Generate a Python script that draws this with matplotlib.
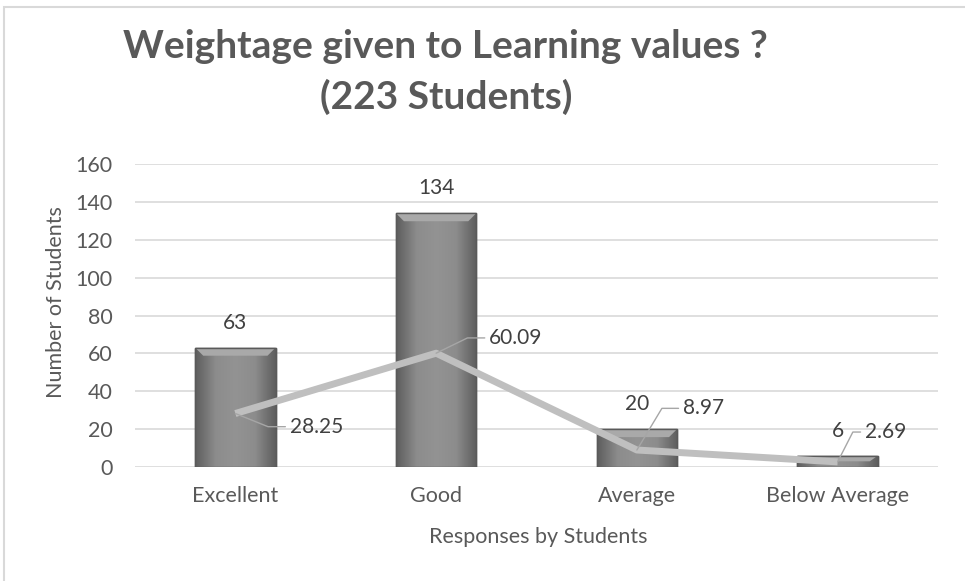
import numpy as np
import matplotlib
matplotlib.use("Agg")
import matplotlib.pyplot as plt
from matplotlib.colors import LinearSegmentedColormap
from matplotlib.patches import Rectangle, Polygon

categories = ["Excellent", "Good", "Average", "Below Average"]
students = [63, 134, 20, 6]
percent = [28.25, 60.09, 8.97, 2.69]
yticks = [0, 20, 40, 60, 80, 100, 120, 140, 160]

#label offsets (points) and leader angles for the percentage line
pct_offsets = [(39, -9.5), (38, 11), (33, 30), (19.5, 21.5)]
pct_angles = [-22, 26, 59, 63]

plt.rcParams['font.family'] = ['Lato', 'DejaVu Sans']
text_col = "#595959"

fig = plt.figure(figsize=(9.65, 5.81), dpi=100)
ax = fig.add_axes([135/965, 1-467/581, (938-135)/965, (467-164)/581])

x = np.arange(len(categories))
bars = ax.bar(x, students, width=0.4, color="#8a8a8a", edgecolor="#5a5a5a",
              linewidth=1, zorder=2)

ax.set_xlim(-0.5, 3.5)
ax.set_ylim(0, 160)

#horizontal gradient inside each bar, plus a lighter bevel on top
cmap = LinearSegmentedColormap.from_list("g", ["#5e5e5e", "#8c8c8c", "#939393", "#8c8c8c", "#5e5e5e"])
grad = np.linspace(0, 1, 64).reshape(1, -1)
dx = 4.0 / 803 * 8   # about 8 px in data units
dy = 160.0 / 303 * 8
for b in bars:
    x0, x1, h = b.get_x(), b.get_x() + b.get_width(), b.get_height()
    im = ax.imshow(grad, cmap=cmap, aspect="auto", zorder=2.1, extent=[x0, x1, 0, h])
    im.set_clip_path(b)
    bev = min(dy, h / 2)
    ax.add_patch(Polygon([(x0, h), (x1, h), (x1 - dx, h - bev), (x0 + dx, h - bev)],
                         closed=True, facecolor="#a9a9a9", edgecolor="none", zorder=2.2))
    ax.add_patch(Rectangle((x0, 0), x1 - x0, h, fill=False, edgecolor="#5a5a5a", lw=1, zorder=2.3))

ax.plot(x, percent, color="#bfbfbf", lw=5, zorder=3, solid_capstyle="butt")

for i, v in enumerate(students):
    ax.annotate(str(v), (i, v), xytext=(0, 18), textcoords="offset points",
                ha="center", va="center", fontsize=15, color="#404040")

for i, v in enumerate(percent):
    ax.annotate("{:.2f}".format(v), (i, v), xytext=pct_offsets[i], textcoords="offset points",
                ha="left", va="center", fontsize=15, color="#404040",
                arrowprops=dict(arrowstyle="-", color="#a6a6a6", lw=1, shrinkA=1, shrinkB=0,
                                connectionstyle="angle,angleA=0,angleB={},rad=0".format(pct_angles[i])))

ax.set_yticks(yticks)
ax.set_xticks(x)
ax.set_xticklabels(categories)
ax.tick_params(length=0, labelsize=15.5, colors=text_col)
ax.tick_params(axis="y", pad=16)
ax.tick_params(axis="x", pad=14)
ax.grid(axis="y", color="#d9d9d9", lw=1.2, zorder=0)
ax.set_axisbelow(True)
for s in ax.spines.values():
    s.set_visible(False)

fig.text(56/965, 1-302/581, "Number of Students", rotation=90, ha="center", va="center",
         fontsize=15.5, color=text_col)
fig.text(538/965, 1-537/581, "Responses by Students", ha="center", va="center",
         fontsize=15.5, color=text_col)

fig.text(445/965, 1-46/581, "Weightage given to Learning values ?", ha="center", va="center",
         fontsize=28, fontweight="bold", color=text_col)
fig.text(446/965, 1-97/581, "(223 Students)", ha="center", va="center",
         fontsize=28, fontweight="bold", color=text_col)

fig.patches.append(Rectangle((4/965, -0.05), 1.1, 1.05 - 7/581, transform=fig.transFigure,
                             fill=False, edgecolor="#d9d9d9", lw=1.5))

fig.savefig("out.png", dpi=100)
